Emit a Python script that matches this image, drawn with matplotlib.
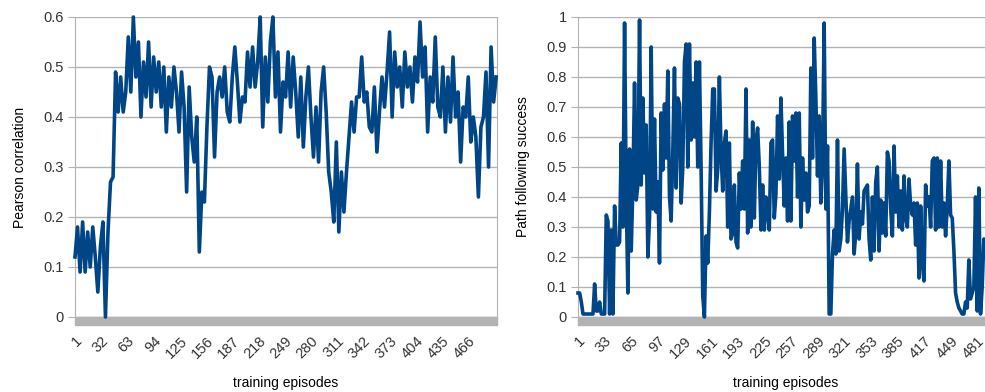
import numpy as np
import matplotlib
matplotlib.use("Agg")
import matplotlib.pyplot as plt
from matplotlib.patches import Rectangle

# Daten
pearson_eps = np.arange(1, 500, 3)
pearson = [
    0.12, 0.18, 0.09, 0.19, 0.09, 0.17, 0.10, 0.18, 0.12, 0.05,
    0.14, 0.19, 0.00, 0.17, 0.27, 0.28, 0.49, 0.41, 0.48, 0.41,
    0.45, 0.56, 0.45, 0.60, 0.48, 0.55, 0.40, 0.51, 0.44, 0.55,
    0.42, 0.52, 0.45, 0.51, 0.42, 0.50, 0.37, 0.48, 0.42, 0.50,
    0.45, 0.37, 0.49, 0.42, 0.25, 0.46, 0.36, 0.31, 0.40, 0.13,
    0.25, 0.23, 0.38, 0.50, 0.48, 0.32, 0.45, 0.48, 0.44, 0.50,
    0.41, 0.39, 0.48, 0.54, 0.47, 0.39, 0.44, 0.43, 0.53, 0.46,
    0.54, 0.46, 0.51, 0.60, 0.38, 0.52, 0.43, 0.55, 0.60, 0.44,
    0.53, 0.37, 0.47, 0.44, 0.53, 0.42, 0.52, 0.45, 0.36, 0.48,
    0.34, 0.44, 0.50, 0.40, 0.32, 0.42, 0.31, 0.45, 0.50, 0.41,
    0.29, 0.25, 0.19, 0.35, 0.17, 0.29, 0.21, 0.29, 0.36, 0.43,
    0.37, 0.44, 0.44, 0.52, 0.43, 0.45, 0.38, 0.37, 0.46, 0.33,
    0.41, 0.48, 0.42, 0.49, 0.57, 0.40, 0.53, 0.46, 0.50, 0.42,
    0.53, 0.46, 0.50, 0.43, 0.52, 0.47, 0.59, 0.48, 0.54, 0.37,
    0.48, 0.43, 0.56, 0.42, 0.40, 0.50, 0.37, 0.48, 0.39, 0.52,
    0.40, 0.45, 0.31, 0.42, 0.40, 0.48, 0.35, 0.40, 0.36, 0.24,
    0.38, 0.40, 0.49, 0.30, 0.54, 0.43, 0.48,
]

path_eps = np.arange(1, 492, 2)
path_success = [
    # Episoden 1-163
    0.08, 0.08, 0.05, 0.01, 0.01, 0.01, 0.01, 0.01, 0.01, 0.01,
    0.11, 0.02, 0.02, 0.05, 0.01, 0.01, 0.01, 0.34, 0.32, 0.01,
    0.29, 0.01, 0.37, 0.24, 0.24, 0.25, 0.58, 0.30, 0.98, 0.40,
    0.08, 0.56, 0.22, 0.44, 0.78, 0.39, 0.44, 0.99, 0.44, 0.73,
    0.48, 0.64, 0.20, 0.33, 0.90, 0.36, 0.66, 0.35, 0.45, 0.18,
    0.68, 0.49, 0.71, 0.53, 0.82, 0.40, 0.32, 0.55, 0.83, 0.43,
    0.73, 0.71, 0.38, 0.50, 0.85, 0.91, 0.50, 0.91, 0.59, 0.78,
    0.60, 0.85, 0.50, 0.85, 0.50, 0.07, 0.00, 0.27, 0.18, 0.35,
    0.58, 0.76,
    # Episoden 165-327
    0.76, 0.42, 0.49, 0.80, 0.55, 0.42, 0.58, 0.62, 0.30, 0.58,
    0.26, 0.28, 0.44, 0.25, 0.23, 0.48, 0.36, 0.52, 0.36, 0.76,
    0.28, 0.59, 0.30, 0.65, 0.33, 0.59, 0.63, 0.50, 0.29, 0.44,
    0.29, 0.40, 0.35, 0.29, 0.58, 0.59, 0.33, 0.41, 0.67, 0.46,
    0.73, 0.54, 0.37, 0.53, 0.32, 0.65, 0.32, 0.67, 0.52, 0.68,
    0.40, 0.68, 0.30, 0.53, 0.39, 0.48, 0.35, 0.37, 0.83, 0.53,
    0.93, 0.73, 0.47, 0.67, 0.38, 0.52, 0.98, 0.36, 0.57, 0.01,
    0.01, 0.21, 0.29, 0.21, 0.59, 0.22, 0.26, 0.36, 0.56, 0.40,
    0.25, 0.32,
    # Episoden 329-491
    0.36, 0.40, 0.21, 0.28, 0.51, 0.26, 0.35, 0.31, 0.42, 0.43,
    0.44, 0.26, 0.19, 0.40, 0.22, 0.45, 0.50, 0.22, 0.39, 0.28,
    0.38, 0.27, 0.55, 0.52, 0.36, 0.27, 0.57, 0.35, 0.47, 0.30,
    0.42, 0.29, 0.47, 0.33, 0.30, 0.46, 0.37, 0.34, 0.38, 0.24,
    0.38, 0.13, 0.37, 0.18, 0.12, 0.44, 0.37, 0.40, 0.30, 0.52,
    0.53, 0.29, 0.53, 0.30, 0.52, 0.30, 0.38, 0.27, 0.37, 0.52,
    0.34, 0.33, 0.22, 0.08, 0.05, 0.03, 0.02, 0.01, 0.01, 0.05,
    0.03, 0.19, 0.06, 0.08, 0.10, 0.40, 0.02, 0.43, 0.01, 0.10,
    0.26, 0.21,
]

left_ticks = np.arange(1, 467, 31)
right_ticks = np.arange(1, 482, 32)

blau = "#004586"
grau = "#b3b3b3"
plt.rcParams["font.family"] = ["Liberation Sans", "DejaVu Sans"]

fig = plt.figure(figsize=(9.85, 3.92), dpi=100)
ax1 = fig.add_axes([75 / 985, 75 / 392, 422 / 985, 300 / 392])
ax2 = fig.add_axes([578 / 985, 75 / 392, 415 / 985, 300 / 392])


def stil(ax, ymax, ystep, xmax, xticks, ylabel):
    ax.set_xlim(1, xmax)
    ax.set_ylim(0, ymax)
    yt = np.round(np.arange(0, ymax + 1e-9, ystep), 2)
    ax.set_yticks(yt)
    ax.set_yticklabels([f"{v:g}" for v in yt])
    ax.set_xticks(xticks)
    ax.set_xticklabels([str(t) for t in xticks], rotation=45,
                       ha="right", va="top", rotation_mode="anchor")
    ax.grid(axis="y", color=grau, linewidth=1.0)
    ax.set_axisbelow(True)
    for s in ["top", "bottom"]:
        ax.spines[s].set_visible(False)
    ax.spines["left"].set_color(grau)
    ax.spines["right"].set_color(grau)
    ax.tick_params(axis="y", length=5, color=grau, labelsize=10.5,
                   labelcolor="#333333", pad=3)
    ax.tick_params(axis="x", length=0, labelsize=10.5,
                   labelcolor="#333333", pad=12)
    # dicker grauer Balken unter der x-Achse
    ax.add_patch(Rectangle((0, -8 / 300), 1, 8 / 300, transform=ax.transAxes,
                           color=grau, clip_on=False, zorder=1))
    ax.set_xlabel("training episodes", fontsize=10)
    ax.xaxis.set_label_coords(0.5, -0.195)
    ax.set_ylabel(ylabel, fontsize=10, labelpad=12)


stil(ax1, 0.6, 0.1, 500, left_ticks, "Pearson correlation")
stil(ax2, 1.0, 0.1, 500, right_ticks, "Path following success")

ax1.plot(pearson_eps, pearson, color=blau, linewidth=2.6,
         solid_joinstyle="round", clip_on=False, zorder=3)
ax2.plot(path_eps, path_success, color=blau, linewidth=2.6,
         solid_joinstyle="round", clip_on=False, zorder=3)

fig.savefig("out.png", dpi=100)
